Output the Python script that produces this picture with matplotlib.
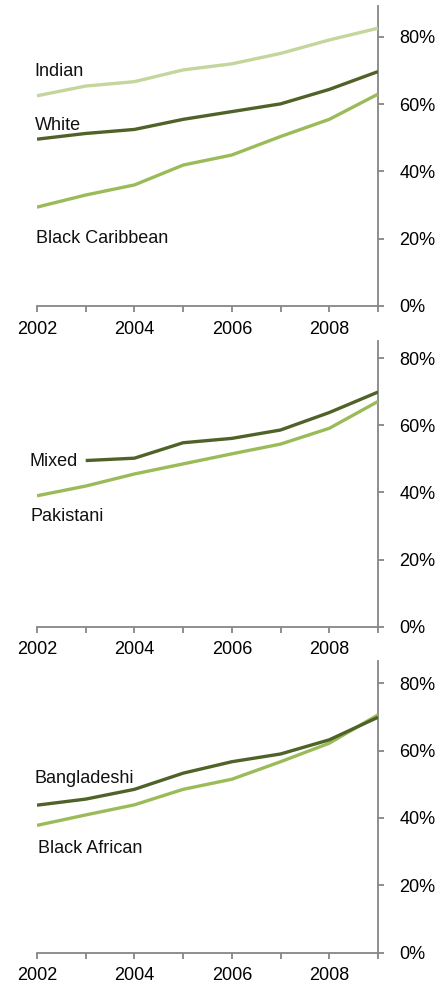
import numpy as np
import matplotlib
matplotlib.use('Agg')
import matplotlib.pyplot as plt
from matplotlib.ticker import FuncFormatter, FixedLocator

plt.rcParams['font.family'] = ['Liberation Sans', 'DejaVu Sans']

# data (share, %)
years = [2002, 2003, 2004, 2005, 2006, 2007, 2008, 2009]
indian = [62.5, 65.4, 66.7, 70.2, 72.0, 75.1, 79.1, 82.6]
white = [49.6, 51.3, 52.5, 55.5, 57.8, 60.1, 64.4, 69.7]
black_caribbean = [29.4, 33.0, 36.0, 41.9, 44.9, 50.4, 55.5, 63.0]
mixed_years = [2003, 2004, 2005, 2006, 2007, 2008, 2009]
mixed = [49.5, 50.2, 54.8, 56.1, 58.6, 63.8, 69.9]
pakistani = [39.0, 41.9, 45.5, 48.5, 51.5, 54.4, 59.1, 67.1]
bangladeshi = [43.8, 45.6, 48.5, 53.3, 56.7, 59.0, 63.2, 69.9]
black_african = [37.8, 40.9, 43.9, 48.5, 51.5, 56.7, 62.2, 70.6]

y_ticks = [0, 20, 40, 60, 80]
x_labels = [2002, 2004, 2006, 2008]

dark = '#4f6228'
mid = '#9bbb59'
light = '#c3d69b'
grey = '#868686'

W, H = 438, 988
fig = plt.figure(figsize=(W / 100, H / 100), dpi=100)

# (bottom px, top px, ymax)
panels = [(306, 6, 89.2), (626.7, 340.7, 85.2), (952.7, 661, 86.6)]
left_px, right_px = 37, 378

series = [
    [(years, indian, light, 'Indian', 2001.94, 69.6),
     (years, white, dark, 'White', 2001.96, 53.8),
     (years, black_caribbean, mid, 'Black Caribbean', 2001.98, 20.2)],
    [(years, pakistani, mid, 'Pakistani', 2001.86, 32.8),
     (mixed_years, mixed, dark, 'Mixed', 2001.84, 49.2)],
    [(years, black_african, mid, 'Black African', 2002.03, 31.0),
     (years, bangladeshi, dark, 'Bangladeshi', 2001.94, 51.6)],
]

for (bot, top, ymax), lines in zip(panels, series):
    ax = fig.add_axes([left_px / W, 1 - bot / H, (right_px - left_px) / W, (bot - top) / H])
    for xs, ys, col, name, tx, ty in lines:
        ax.plot(xs, ys, color=col, lw=2.4, solid_capstyle='butt', zorder=3)
        ax.text(tx, ty, name, fontsize=13, va='center', ha='left', color='#111111')
    ax.set_xlim(2002, 2009)
    ax.set_ylim(0, ymax)
    for s in ['top', 'left']:
        ax.spines[s].set_visible(False)
    for s in ['bottom', 'right']:
        ax.spines[s].set_color(grey)
        ax.spines[s].set_linewidth(1.3)
    ax.xaxis.set_major_locator(FixedLocator(years))
    ax.xaxis.set_major_formatter(FuncFormatter(lambda v, p: str(int(round(v))) if int(round(v)) in x_labels else ''))
    ax.yaxis.tick_right()
    ax.set_yticks(y_ticks)
    ax.yaxis.set_major_formatter(FuncFormatter(lambda v, p: '%d%%' % v))
    ax.tick_params(axis='x', direction='out', length=4.5, width=1.3, color=grey, labelsize=13, pad=6)
    ax.tick_params(axis='y', direction='out', length=4.5, width=1.3, color=grey, labelsize=13, pad=11)

fig.savefig('out.png', dpi=100)
